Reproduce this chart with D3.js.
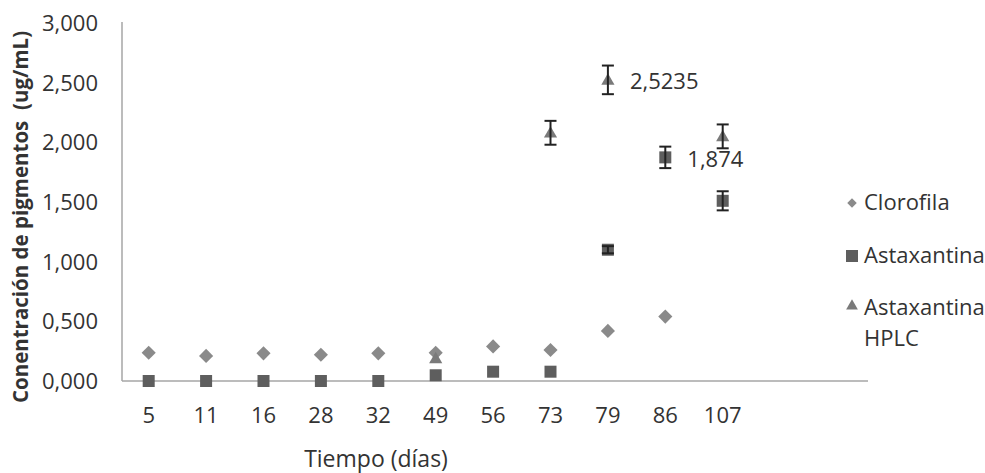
<!DOCTYPE html>
<html><head><meta charset="utf-8">
<script src="https://cdn.jsdelivr.net/npm/d3@7"></script>
<style>body{margin:0;background:#fff}svg{display:block}</style>
</head><body><svg id="c" width="985" height="473"></svg>
<script>
const categories = ["5","11","16","28","32","49","56","73","79","86","107"];
const clorofila = [0.237,0.21,0.232,0.22,0.232,0.237,0.29,0.26,0.42,0.54,null];
const astaxantina = [0,0,0,0,0,0.048,0.078,0.078,1.10,1.874,1.51];
const astaxantinaErr = [0,0,0,0,0,0,0,0,0.03,0.09,0.08];
const hplc = [null,null,null,null,null,0.19,null,2.08,2.5235,null,2.05];
const hplcErr = [0,0,0,0,0,0,0,0.1,0.12,0,0.1];
const yTicks = [0,0.5,1,1.5,2,2.5,3];
const seriesNames = ["Clorofila","Astaxantina","Astaxantina HPLC"];

const svg = d3.select("#c");
const font = "'Open Sans', sans-serif";
const x0 = 122, y0 = 381, yTop = 23, step = 57.4, xEnd = 868;
const x = d3.scaleBand().domain(categories).range([x0, x0 + step*categories.length]).paddingInner(0).paddingOuter(0);
const xc = c => x(c) + x.bandwidth()/2 - 2;
const y = d3.scaleLinear().domain([0,3]).range([y0, yTop]);
const fmt = v => d3.format(".3f")(v).replace(".", ",");
const txt = "#333";

// y ticks
svg.append("g").selectAll("text").data(yTicks).join("text")
  .attr("x", 98).attr("y", d => y(d) + 8).attr("text-anchor","end")
  .attr("font-family", font).attr("font-size", 22).attr("fill",txt)
  .text(fmt);
// axes lines
svg.append("line").attr("x1", x0).attr("x2", x0).attr("y1", yTop - 1).attr("y2", y0).attr("stroke","#a6a6a6").attr("stroke-width",1.5);
svg.append("line").attr("x1", x0).attr("x2", xEnd).attr("y1", y0).attr("y2", y0).attr("stroke","#a6a6a6").attr("stroke-width",1.5);
// x tick labels
svg.append("g").selectAll("text").data(categories).join("text")
  .attr("x", d => xc(d)).attr("y", 423).attr("text-anchor","middle")
  .attr("font-family", font).attr("font-size", 22).attr("fill",txt).text(d => d);
// axis titles
svg.append("text").attr("x", 376).attr("y", 467).attr("text-anchor","middle")
  .attr("font-family", font).attr("font-size", 23).attr("fill",txt).text("Tiempo (días)");
svg.append("text").attr("transform","translate(28,217) rotate(-90)").attr("text-anchor","middle")
  .attr("font-family", font).attr("font-size", 20.5).attr("font-weight","bold").attr("fill",txt)
  .attr("xml:space","preserve").text("Conentración de pigmentos  (ug/mL)");

const sqSize = 12;
const cD = "#8a8a8a", cS = "#5e5e5e", cT = "#7a7a7a";

function errBars(vals, errs){
  const g = svg.append("g").attr("stroke","#222").attr("stroke-width",2);
  categories.forEach((c,i)=>{
    if (vals[i]==null || !errs[i]) return;
    const cx = xc(c), a = y(vals[i]+errs[i]), b = y(vals[i]-errs[i]);
    g.append("line").attr("x1",cx).attr("x2",cx).attr("y1",a).attr("y2",b);
    g.append("line").attr("x1",cx-6).attr("x2",cx+6).attr("y1",a).attr("y2",a);
    g.append("line").attr("x1",cx-6).attr("x2",cx+6).attr("y1",b).attr("y2",b);
  });
}

// clorofila
svg.append("g").selectAll("path").data(categories.map((c,i)=>[c,clorofila[i]]).filter(d=>d[1]!=null)).join("path")
  .attr("d", d3.symbol().type(d3.symbolSquare).size(100)())
  .attr("transform", d => `translate(${xc(d[0])},${y(d[1])}) rotate(45)`).attr("fill", cD);
// astaxantina
svg.append("g").selectAll("rect").data(categories.map((c,i)=>[c,astaxantina[i]])).join("rect")
  .attr("x", d => xc(d[0]) - sqSize/2).attr("y", d => y(d[1]) - sqSize/2)
  .attr("width", sqSize).attr("height", sqSize).attr("fill", cS);
errBars(astaxantina, astaxantinaErr);
// hplc
svg.append("g").selectAll("path").data(categories.map((c,i)=>[c,hplc[i]]).filter(d=>d[1]!=null)).join("path")
  .attr("d", d3.symbol().type(d3.symbolTriangle).size(75)()).attr("transform", d => `translate(${xc(d[0])},${y(d[1])+1})`).attr("fill", cT);
errBars(hplc, hplcErr);

// data labels
svg.append("text").attr("x", xc("79") + 22).attr("y", y(2.5235) + 9).attr("font-family", font).attr("font-size", 22).attr("fill",txt).text("2,5235");
svg.append("text").attr("x", xc("86") + 22).attr("y", y(1.874) + 10).attr("font-family", font).attr("font-size", 22).attr("fill",txt).text("1,874");

// legend
const lg = svg.append("g").attr("font-family", font).attr("font-size", 22).attr("fill",txt);
lg.append("path").attr("d", d3.symbol().type(d3.symbolSquare).size(45)()).attr("transform","translate(852,203) rotate(45)").attr("fill", cD);
lg.append("text").attr("x", 864).attr("y", 210).text(seriesNames[0]);
lg.append("rect").attr("x", 846).attr("y", 250).attr("width", 12).attr("height", 12).attr("fill", cS);
lg.append("text").attr("x", 864).attr("y", 263).text(seriesNames[1]);
lg.append("path").attr("d", d3.symbol().type(d3.symbolTriangle).size(60)()).attr("transform","translate(852,306)").attr("fill", cT);
lg.append("text").attr("x", 864).attr("y", 315).text("Astaxantina");
lg.append("text").attr("x", 864).attr("y", 346).text("HPLC");
</script></body></html>
